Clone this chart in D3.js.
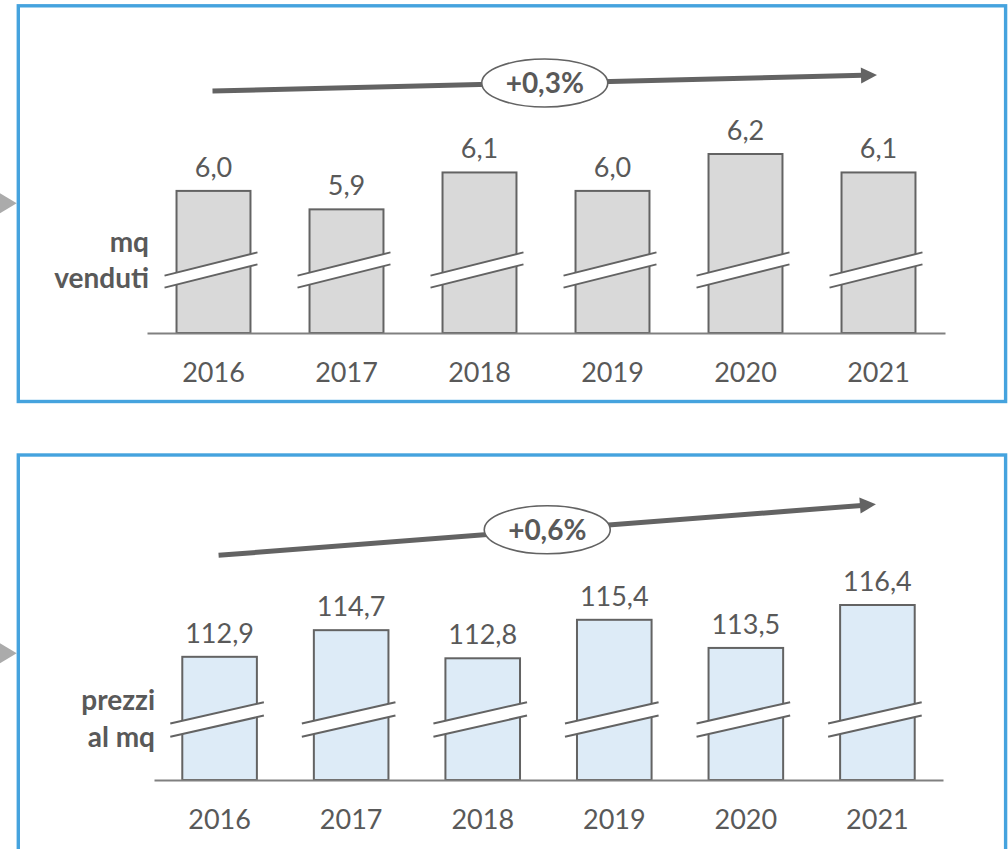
<!DOCTYPE html>
<html>
<head>
<meta charset="utf-8">
<script src="https://cdn.jsdelivr.net/npm/d3@7"></script>
<style>
  html, body { margin: 0; padding: 0; background: #ffffff; }
  svg { display: block; }
  text { font-family: Lato, "Open Sans", sans-serif; }
</style>
</head>
<body>
<svg id="chart" width="1008" height="849"></svg>
<script>
// Years on the category axis
const years = ["2016", "2017", "2018", "2019", "2020", "2021"];
// Square metres sold (millions)
const mqVenduti = [6.0, 5.9, 6.1, 6.0, 6.2, 6.1];
// Average price per square metre
const prezziMq = [112.9, 114.7, 112.8, 115.4, 113.5, 116.4];
// Average yearly growth shown on each trend arrow
const trendLabels = ["+0,3%", "+0,6%"];
// Row labels on the left of each panel
const rowLabels = [["mq", "venduti"], ["prezzi", "al mq"]];

const itLocale = d3.formatLocale({ decimal: ",", thousands: ".", grouping: [3], currency: ["€", ""] });
const fmt = itLocale.format(".1f");

const GRAY = "#636363";
const TEXT = "#595959";
const BLUE = "#45a3de";

const svg = d3.select("#chart");

// Panel layout (positions only)
const panels = [
  {
    values: mqVenduti, trend: trendLabels[0], label: rowLabels[0],
    box: { x: 18.3, y: 5.8, w: 987.3, h: 395.7 },
    pointer: 203.3,
    xRange: [147, 945], padIn: 0.444, padOut: 0.222,
    base: 333, top: 154, domain: [5.23, 6.2],
    fill: "#d9d9d9",
    brk: { off: 63, gap: 12, slope: 0.25 },
    arrow: { y0: 91, y1: 75 },
    lab: { x: 149, y0: 251.7, y1: 288.3 }
  },
  {
    values: prezziMq, trend: trendLabels[1], label: rowLabels[1],
    box: { x: 18.3, y: 455, w: 987.3, h: 500 },
    pointer: 653.3,
    xRange: [154, 943], padIn: 0.433, padOut: 0.215,
    base: 780, top: 605, domain: [104.58, 116.4],
    fill: "#ddebf7",
    brk: { off: 60.5, gap: 13.4, slope: 0.227 },
    arrow: { y0: 555.3, y1: 504.3 },
    lab: { x: 155, y0: 710, y1: 746.7 }
  }
];

panels.forEach(p => {
  const g = svg.append("g");

  // Grey pointer triangle on the left edge
  g.append("path")
    .attr("d", `M-4,${p.pointer - 12.4}L16.7,${p.pointer}L-4,${p.pointer + 12.4}Z`)
    .attr("fill", "#ababab");

  // Blue frame
  g.append("rect")
    .attr("x", p.box.x).attr("y", p.box.y)
    .attr("width", p.box.w).attr("height", p.box.h)
    .attr("fill", "none").attr("stroke", BLUE).attr("stroke-width", 3.4);

  const x = d3.scaleBand().domain(years).range(p.xRange)
    .paddingInner(p.padIn).paddingOuter(p.padOut);
  const y = d3.scaleLinear().domain(p.domain).range([p.base, p.top]);

  const data = years.map((yr, i) => ({ year: yr, value: p.values[i] }));

  // Bars
  g.selectAll("rect.bar").data(data).enter().append("rect")
    .attr("class", "bar")
    .attr("x", d => x(d.year))
    .attr("y", d => y(d.value))
    .attr("width", x.bandwidth())
    .attr("height", d => y(p.domain[0]) - y(d.value))
    .attr("fill", p.fill)
    .attr("stroke", GRAY).attr("stroke-width", 2);

  // Axis break marks across each bar
  const brk = g.selectAll("g.brk").data(data).enter().append("g").attr("class", "brk");
  const bx0 = d => x(d.year) - 12;
  const bx1 = d => x(d.year) + x.bandwidth() + 7;
  const cy = p.base - p.brk.off;
  const yAt = (d, xx, side) => {
    const xc = (bx0(d) + bx1(d)) / 2;
    return cy + side * p.brk.gap / 2 - p.brk.slope * (xx - xc);
  };
  brk.append("path")
    .attr("d", d => `M${bx0(d)},${yAt(d, bx0(d), -1)}L${bx1(d)},${yAt(d, bx1(d), -1)}` +
                    `L${bx1(d)},${yAt(d, bx1(d), 1)}L${bx0(d)},${yAt(d, bx0(d), 1)}Z`)
    .attr("fill", "#ffffff");
  [-1, 1].forEach(side => {
    brk.append("line")
      .attr("x1", d => bx0(d)).attr("y1", d => yAt(d, bx0(d), side))
      .attr("x2", d => bx1(d)).attr("y2", d => yAt(d, bx1(d), side))
      .attr("stroke", GRAY).attr("stroke-width", 2);
  });

  // Value labels
  g.selectAll("text.val").data(data).enter().append("text")
    .attr("class", "val")
    .attr("x", d => x(d.year) + x.bandwidth() / 2)
    .attr("y", d => y(d.value) - 14)
    .attr("text-anchor", "middle")
    .attr("font-size", 27)
    .attr("fill", TEXT)
    .text(d => fmt(d.value));

  // Category axis with baseline
  const axis = g.append("g")
    .attr("transform", `translate(0,${p.base})`)
    .call(d3.axisBottom(x).tickSize(0).tickSizeOuter(0));
  axis.select(".domain").attr("stroke", "#808080").attr("stroke-width", 2);
  axis.selectAll(".tick text")
    .attr("y", 48.5).attr("dy", null)
    .attr("font-size", 27)
    .attr("font-family", "Lato, 'Open Sans', sans-serif")
    .attr("fill", TEXT);

  // Row label
  const lab = g.append("text")
    .attr("text-anchor", "end")
    .attr("font-size", 28).attr("font-weight", "bold")
    .attr("fill", TEXT);
  lab.append("tspan").attr("x", p.lab.x).attr("y", p.lab.y0).text(p.label[0]);
  lab.append("tspan").attr("x", p.lab.x).attr("y", p.lab.y1).text(p.label[1]);

  // Trend arrow from the first to the last year
  const ax0 = x(years[0]) + x.bandwidth() / 2 - 1;
  const ax1 = x(years[years.length - 1]) + x.bandwidth() / 2 - 1.5;
  const ang = Math.atan2(p.arrow.y1 - p.arrow.y0, ax1 - ax0);
  const headLen = 16, headHalf = 8;
  const hx = ax1 - headLen * Math.cos(ang), hy = p.arrow.y1 - headLen * Math.sin(ang);
  g.append("line")
    .attr("x1", ax0).attr("y1", p.arrow.y0)
    .attr("x2", hx + 2 * Math.cos(ang)).attr("y2", hy + 2 * Math.sin(ang))
    .attr("stroke", GRAY).attr("stroke-width", 5);
  g.append("path")
    .attr("d", `M${ax1},${p.arrow.y1}` +
               `L${hx - headHalf * Math.sin(ang)},${hy + headHalf * Math.cos(ang)}` +
               `L${hx + headHalf * Math.sin(ang)},${hy - headHalf * Math.cos(ang)}Z`)
    .attr("fill", GRAY);

  // Growth pill in the middle of the arrow
  const ex = (ax0 + ax1) / 2, ey = (p.arrow.y0 + p.arrow.y1) / 2;
  g.append("ellipse")
    .attr("cx", ex).attr("cy", ey).attr("rx", 63).attr("ry", 24)
    .attr("fill", "#ffffff").attr("stroke", GRAY).attr("stroke-width", 1.6);
  g.append("text")
    .attr("x", ex).attr("y", ey + 10)
    .attr("text-anchor", "middle")
    .attr("font-size", 28).attr("font-weight", "bold")
    .attr("fill", TEXT)
    .text(p.trend);
});
</script>
</body>
</html>
